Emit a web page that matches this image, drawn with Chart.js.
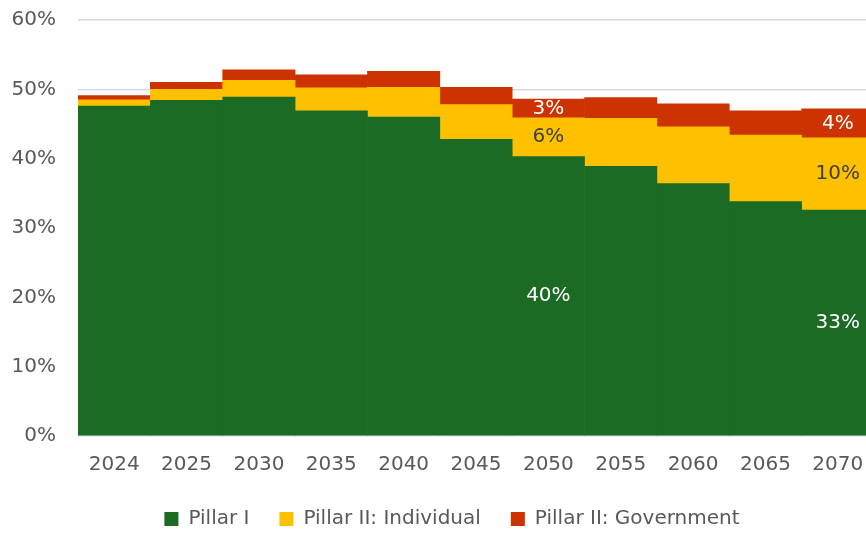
<!DOCTYPE html>
<html>
<head>
<meta charset="utf-8">
<script src="https://cdn.jsdelivr.net/npm/chart.js@4/dist/chart.umd.min.js"></script>
<style>
  html, body { margin: 0; padding: 0; background: #fff; overflow: hidden; }
</style>
</head>
<body>
<canvas id="graph" width="904" height="534"></canvas>
<script>
// categories and values (percent)
const years = ['2024', '2025', '2030', '2035', '2040', '2045', '2050', '2055', '2060', '2065', '2070'];
const pillarI = [47.6, 48.4, 48.9, 46.9, 46.0, 42.8, 40.3, 38.9, 36.4, 33.8, 32.6];
const pillarIIIndividual = [0.9, 1.6, 2.4, 3.3, 4.3, 5.0, 5.6, 6.9, 8.2, 9.6, 10.4];
const pillarIIGovernment = [0.6, 1.0, 1.5, 1.9, 2.3, 2.5, 2.7, 3.0, 3.3, 3.5, 4.2];
const labelledYears = ['2050', '2070'];
const yTicks = [0, 10, 20, 30, 40, 50, 60];

// draws the value labels in the middle of the chosen bars
const segmentLabels = {
  id: 'segmentLabels',
  afterDatasetsDraw(chart) {
    const ctx = chart.ctx;
    ctx.save();
    ctx.font = '20px "DejaVu Sans"';
    ctx.textAlign = 'center';
    ctx.textBaseline = 'middle';
    chart.data.datasets.forEach((ds, di) => {
      const meta = chart.getDatasetMeta(di);
      labelledYears.forEach(y => {
        const i = years.indexOf(y);
        const bar = meta.data[i];
        ctx.fillStyle = ds.labelColor;
        ctx.fillText(Math.round(ds.data[i]) + '%', bar.x, (bar.y + bar.base) / 2);
      });
    });
    ctx.restore();
  }
};

// nudge the legend a bit (the original is centred on a wider figure)
const legendShift = {
  id: 'legendShift',
  afterLayout(chart) {
    const lg = chart.legend;
    lg.left += 15; lg.right += 15;
    lg.top -= 7; lg.bottom -= 7;
  }
};

let myChart = document.getElementById('graph').getContext('2d');

let pensionChart = new Chart(myChart, {
  type: 'bar',
  data: {
    labels: years,
    datasets: [{
      label: 'Pillar I',
      data: pillarI,
      backgroundColor: '#1B6B24',
      labelColor: '#ffffff'
    }, {
      label: 'Pillar II: Individual',
      data: pillarIIIndividual,
      backgroundColor: '#FFC000',
      labelColor: '#404040'
    }, {
      label: 'Pillar II: Government',
      data: pillarIIGovernment,
      backgroundColor: '#CC3300',
      labelColor: '#ffffff'
    }]
  },
  options: {
    responsive: false,
    animation: false,
    layout: { padding: { left: 0, right: 30, top: 20, bottom: -12 } },
    datasets: { bar: { barPercentage: 1, categoryPercentage: 1 } },
    scales: {
      x: {
        stacked: true,
        grid: { display: false },
        border: { display: false },
        ticks: { color: '#595959', padding: 9, font: { family: 'DejaVu Sans', size: 20 } }
      },
      y: {
        stacked: true,
        min: 0,
        max: 60,
        afterFit(scale) { scale.width = 78; scale.paddingTop = 0; scale.paddingBottom = 0; },
        afterBuildTicks(scale) { scale.ticks = yTicks.map(v => ({ value: v })); },
        grid: { color: '#d9d9d9', lineWidth: 1.5, drawTicks: false },
        border: { display: false },
        ticks: {
          color: '#595959',
          padding: 22,
          font: { family: 'DejaVu Sans', size: 20 },
          callback: v => v + '%'
        }
      }
    },
    plugins: {
      legend: {
        position: 'bottom',
        labels: {
          boxWidth: 14,
          boxHeight: 14,
          padding: 30,
          color: '#595959',
          font: { family: 'DejaVu Sans', size: 20 }
        }
      },
      tooltip: { enabled: false }
    }
  },
  plugins: [segmentLabels, legendShift]
});
</script>
</body>
</html>
